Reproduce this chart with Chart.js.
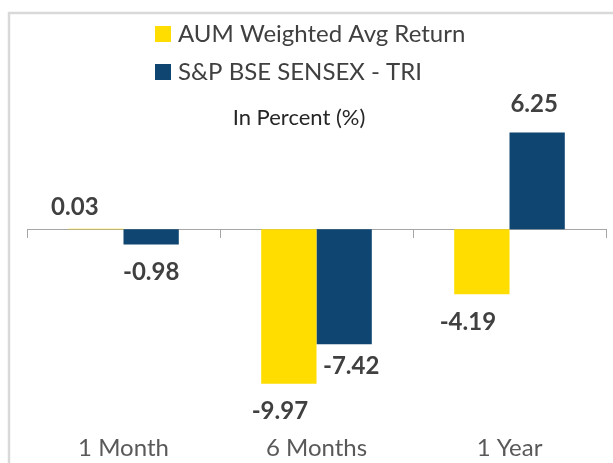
<!DOCTYPE html>
<html>
<head>
<meta charset="utf-8">
<script src="https://cdn.jsdelivr.net/npm/chart.js@4.4.1/dist/chart.umd.min.js"></script>
<style>
  html, body { margin: 0; padding: 0; background: #ffffff; }
  #wrap { width: 613px; height: 463px; }
</style>
</head>
<body>
<div id="wrap"><canvas id="returnsChart"></canvas></div>
<script>
// ---- data ----
const periods = ["1 Month", "6 Months", "1 Year"];
const aumReturn = [0.03, -9.97, -4.19];
const sensexReturn = [-0.98, -7.42, 6.25];
const unitNote = "In Percent (%)";

const FONT = "Lato, 'Open Sans', sans-serif";

// light grey frame around the chart
const framePlugin = {
    id: "frame",
    beforeDraw(chart) {
        const ctx = chart.ctx;
        ctx.save();
        ctx.strokeStyle = "#d9d9d9";
        ctx.lineWidth = 2.5;
        ctx.strokeRect(9, 13, chart.width + 20, chart.height + 20);
        ctx.restore();
    },
};

// two-row legend, left aligned, plus the unit note under it
const legendPlugin = {
    id: "stackedLegend",
    afterDraw(chart, args, opts) {
        const ctx = chart.ctx;
        ctx.save();
        ctx.font = "24px " + FONT;
        ctx.textBaseline = "middle";
        chart.data.datasets.forEach((ds, i) => {
            const y = opts.top + i * opts.rowGap;
            ctx.fillStyle = ds.backgroundColor;
            ctx.fillRect(opts.left, y - 8, 16, 16);
            ctx.fillStyle = "#404040";
            ctx.fillText(ds.label, opts.left + 23, y);
        });
        ctx.font = "22px " + FONT;
        ctx.fillStyle = "#262626";
        ctx.textAlign = "center";
        ctx.fillText(unitNote, opts.noteX, opts.noteY);
        ctx.restore();
    },
};

// bold value labels next to the bar ends
const valueLabels = {
    id: "valueLabels",
    afterDatasetsDraw(chart, args, opts) {
        const ctx = chart.ctx;
        ctx.save();
        ctx.font = "bold 24px " + FONT;
        ctx.fillStyle = "#404040";
        ctx.textAlign = "center";
        ctx.textBaseline = "middle";
        chart.data.datasets.forEach((ds, di) => {
            chart.getDatasetMeta(di).data.forEach((bar, i) => {
                const v = ds.data[i];
                const nudge = (opts.nudge[di] || [])[i] || [0, 0];
                const y = v >= 0 ? bar.y - 28 : bar.y + 28;
                ctx.fillText(v.toFixed(2), bar.x + nudge[0], y + nudge[1]);
            });
        });
        ctx.restore();
    },
};

new Chart(document.getElementById("returnsChart"), {
    type: "bar",
    data: {
        labels: periods,
        datasets: [
            {
                label: "AUM Weighted Avg Return",
                data: aumReturn,
                backgroundColor: "#FFDD00",
            },
            {
                label: "S&P BSE SENSEX - TRI",
                data: sensexReturn,
                backgroundColor: "#0F4571",
            },
        ],
    },
    options: {
        responsive: true,
        maintainAspectRatio: false,
        animation: false,
        categoryPercentage: 0.573,
        barPercentage: 1,
        layout: {
            padding: { top: 129, left: 27, right: 7, bottom: -5 },
        },
        scales: {
            x: {
                position: { y: 0 },
                offset: true,
                ticks: { display: false },
                grid: {
                    display: true,
                    offset: true,
                    drawOnChartArea: false,
                    tickLength: 8,
                    color: "#a6a6a6",
                },
                border: { color: "#a6a6a6", width: 1 },
            },
            x2: {
                type: "category",
                position: "bottom",
                offset: true,
                grid: { display: false, drawTicks: false },
                border: { display: false },
                ticks: {
                    padding: 8,
                    color: "#595959",
                    font: { family: FONT, size: 24, lineHeight: 1 },
                },
            },
            y: {
                display: false,
                min: -12.83,
                max: 6.47,
            },
        },
        plugins: {
            legend: { display: false },
            tooltip: { enabled: false },
            stackedLegend: { left: 155, top: 34, rowGap: 38, noteX: 299, noteY: 118 },
            valueLabels: {
                nudge: [
                    [[-21, 6], [-9, 0], [-14, 0]],
                    [[0, 0], [7, -6], [-3, 0]],
                ],
            },
        },
    },
    plugins: [framePlugin, legendPlugin, valueLabels],
});
</script>
</body>
</html>
